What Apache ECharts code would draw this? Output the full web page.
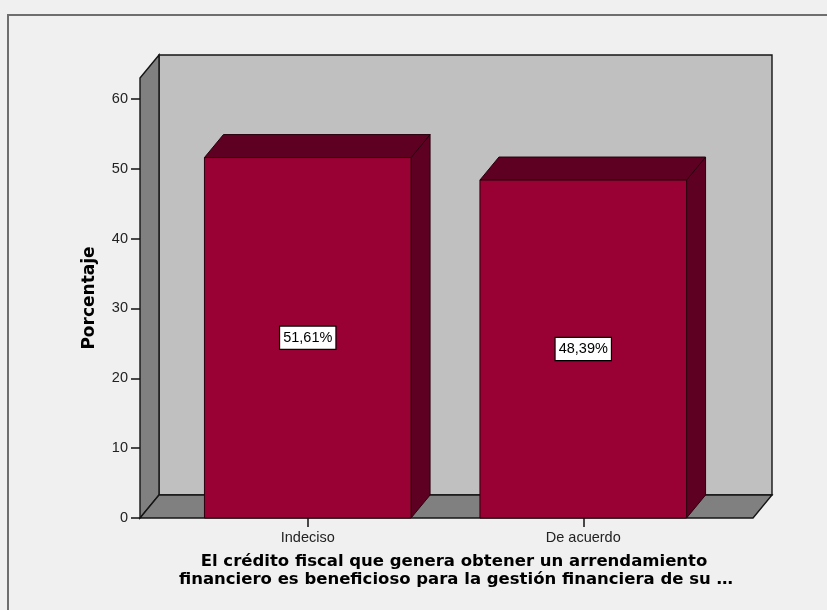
<!DOCTYPE html>
<html>
<head>
<meta charset="utf-8">
<script src="https://cdn.jsdelivr.net/npm/echarts@6/dist/echarts.min.js"></script>
<style>
  html, body { margin: 0; padding: 0; background: #f0f0f0; }
  #chart { width: 827px; height: 610px; }
</style>
</head>
<body>
<div id="chart"></div>
<script>
// Response categories and their percentages
const categories = ['Indeciso', 'De acuerdo'];
const percentages = [51.61, 48.39];
const yTicks = [0, 10, 20, 30, 40, 50, 60];
const yMax = 63;

const xTitleLines = [
  'El crédito fiscal que genera obtener un arrendamiento',
  'financiero es beneficioso para la gestión financiera de su …'
];
const yTitle = 'Porcentaje';

// 3D look: depth offset of the back plane, wall extension beyond the band area
const DX = 19, DY = -23;
const PAD_L = 30, PAD_R = 32;

const BAR_FRONT = '#990033';
const BAR_DARK = '#5e0022';
const BAR_EDGE = '#2a000e';
const WALL_BACK = '#c0c0c0';
const WALL_SIDE = '#808080';
const WALL_EDGE = '#141414';

function fmtPct(v) {
  return v.toFixed(2).replace('.', ',') + '%';
}

function renderWalls(params, api) {
  const cs = params.coordSys;
  const x0 = cs.x - PAD_L;
  const x1 = cs.x + cs.width + PAD_R;
  const yTop = cs.y;
  const yBot = cs.y + cs.height;
  const edge = { stroke: WALL_EDGE, lineWidth: 1.4 };
  return {
    type: 'group',
    children: [
      { type: 'polygon', shape: { points: [[x0 + DX, yTop + DY], [x1 + DX, yTop + DY], [x1 + DX, yBot + DY], [x0 + DX, yBot + DY]] },
        style: Object.assign({ fill: WALL_BACK }, edge) },
      { type: 'polygon', shape: { points: [[x0, yTop], [x0 + DX, yTop + DY], [x0 + DX, yBot + DY], [x0, yBot]] },
        style: Object.assign({ fill: WALL_SIDE }, edge) },
      { type: 'polygon', shape: { points: [[x0, yBot], [x1, yBot], [x1 + DX, yBot + DY], [x0 + DX, yBot + DY]] },
        style: Object.assign({ fill: WALL_SIDE }, edge) }
    ]
  };
}

function renderBar(params, api) {
  const i = api.value(0);
  const v = api.value(1);
  const base = api.coord([i, 0]);
  const top = api.coord([i, v]);
  const w = api.size([1, 0])[0] * 0.75;
  const xl = base[0] - w / 2, xr = base[0] + w / 2;
  const yt = top[1], yb = base[1];
  const edge = { stroke: BAR_EDGE, lineWidth: 1 };
  return {
    type: 'group',
    children: [
      { type: 'polygon', shape: { points: [[xr, yt], [xr + DX, yt + DY], [xr + DX, yb + DY], [xr, yb]] },
        style: Object.assign({ fill: BAR_DARK }, edge) },
      { type: 'polygon', shape: { points: [[xl, yt], [xr, yt], [xr + DX, yt + DY], [xl + DX, yt + DY]] },
        style: Object.assign({ fill: BAR_DARK }, edge) },
      { type: 'rect', shape: { x: xl, y: yt, width: w, height: yb - yt },
        style: Object.assign({ fill: BAR_FRONT }, edge) },
      { type: 'text', x: base[0], y: (yt + yb) / 2,
        style: {
          text: fmtPct(v), fill: '#000', font: '14.5px "Liberation Sans", Arial, sans-serif',
          align: 'center', verticalAlign: 'middle',
          backgroundColor: '#ffffff', borderColor: '#000000', borderWidth: 1.2, padding: [4, 3, 3, 3]
        } }
    ]
  };
}

const chart = echarts.init(document.getElementById('chart'), null, { renderer: 'canvas' });

chart.setOption({
  backgroundColor: '#f0f0f0',
  animation: false,
  grid: { left: 170, right: 106, top: 78, bottom: 92 },
  xAxis: {
    type: 'category',
    data: categories,
    axisLine: { show: false },
    axisTick: { show: true, alignWithLabel: true, length: 9, lineStyle: { color: '#111', width: 1.5 } },
    axisLabel: { color: '#222', fontSize: 14.5, fontFamily: '"Liberation Sans", Arial, sans-serif', margin: 12 },
    splitLine: { show: false }
  },
  yAxis: {
    type: 'value',
    min: 0,
    max: yMax,
    interval: 10,
    offset: 30,
    axisLine: { show: false },
    axisTick: { show: true, length: 9, customValues: yTicks, lineStyle: { color: '#111', width: 1.5 } },
    axisLabel: { color: '#222', fontSize: 14.5, fontFamily: '"Liberation Sans", Arial, sans-serif', margin: 12, customValues: yTicks },
    splitLine: { show: false }
  },
  series: [
    { type: 'custom', renderItem: renderWalls, data: [[0, 0]], z: 1, silent: true },
    { type: 'custom', renderItem: renderBar, data: percentages.map((v, i) => [i, v]), z: 2 }
  ],
  graphic: [
    { type: 'rect', z: -10, silent: true, shape: { x: 8, y: 15, width: 900, height: 700 },
      style: { fill: 'none', stroke: '#6e6e6e', lineWidth: 2 } },
    { type: 'text', x: 90, y: 298, rotation: Math.PI / 2,
      style: { text: yTitle, font: 'bold 17px "DejaVu Sans", sans-serif', fill: '#000', align: 'center', verticalAlign: 'middle' } },
    { type: 'text', x: 454, y: 562,
      style: { text: xTitleLines[0], font: 'bold 16.5px "DejaVu Sans", sans-serif', fill: '#000', align: 'center', verticalAlign: 'middle' } },
    { type: 'text', x: 456, y: 580,
      style: { text: xTitleLines[1], font: 'bold 16.5px "DejaVu Sans", sans-serif', fill: '#000', align: 'center', verticalAlign: 'middle' } }
  ]
});
</script>
</body>
</html>
